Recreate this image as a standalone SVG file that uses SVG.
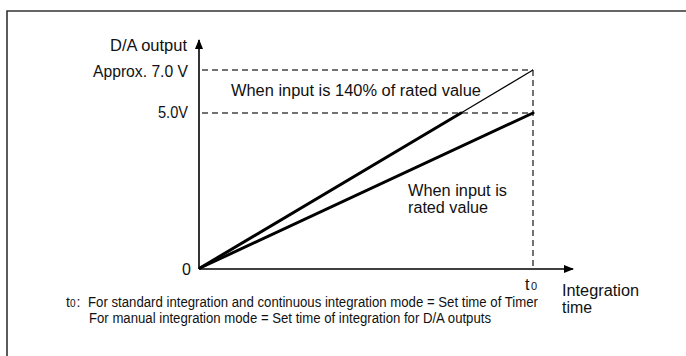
<svg xmlns="http://www.w3.org/2000/svg" width="686" height="356" viewBox="0 0 686 356">
<defs>
<style>
text{font-family:"Liberation Sans",Arial,sans-serif;fill:#111;}
.lbl{font-size:16px;}
.note{font-size:14px;}
.axis{stroke:#000;stroke-width:1.6;fill:none;}
.dash{stroke:#444;stroke-width:1.5;stroke-dasharray:6,4;fill:none;}
.thick{stroke:#000;stroke-width:3;fill:none;stroke-linecap:round;}
.thin{stroke:#000;stroke-width:1.2;fill:none;}
</style>
<marker id="arr" markerWidth="10" markerHeight="8" refX="9" refY="4" orient="auto" markerUnits="userSpaceOnUse">
<path d="M0,0 L10,4 L0,8 Z" fill="#000"/>
</marker>
</defs>
<rect width="686" height="356" fill="#fff"/>
<g id="frame">
<path d="M7,356 V11 H686" fill="none" stroke="#333" stroke-width="1.6"/>
</g>
<g id="connectors">
<line class="axis" x1="199" y1="269" x2="199" y2="40" marker-end="url(#arr)"/>
<line class="axis" x1="199" y1="269" x2="573" y2="269" marker-end="url(#arr)"/>
<line class="dash" x1="202" y1="70" x2="533" y2="70"/>
<line class="dash" x1="202" y1="113" x2="533" y2="113"/>
<line class="dash" x1="533" y1="70" x2="533" y2="268"/>
<line class="thick" x1="200" y1="268" x2="461" y2="113"/>
<line class="thin" x1="461" y1="113" x2="533" y2="70"/>
<line class="thick" x1="200" y1="268" x2="533" y2="113"/>
</g>
<g id="yaxis-label"><text class="lbl" x="110" y="51" textLength="77" lengthAdjust="spacingAndGlyphs">D/A output</text></g>
<g id="tick-7v"><text class="lbl" x="93" y="77" textLength="95" lengthAdjust="spacingAndGlyphs">Approx. 7.0 V</text></g>
<g id="tick-5v"><text class="lbl" x="158" y="118" textLength="30" lengthAdjust="spacingAndGlyphs">5.0V</text></g>
<g id="tick-0"><text class="lbl" x="182" y="275">0</text></g>
<g id="label-140"><text class="lbl" x="231" y="96" textLength="250" lengthAdjust="spacingAndGlyphs">When input is 140% of rated value</text></g>
<g id="label-rated"><text class="lbl" x="408" y="196" textLength="99" lengthAdjust="spacingAndGlyphs">When input is</text><text class="lbl" x="408" y="213" textLength="80" lengthAdjust="spacingAndGlyphs">rated value</text></g>
<g id="tick-t0"><text class="lbl" x="525" y="290">t<tspan font-size="11" dx="1.5">0</tspan></text></g>
<g id="xaxis-label"><text class="lbl" x="562" y="296" textLength="77" lengthAdjust="spacingAndGlyphs">Integration</text><text class="lbl" x="562" y="313" textLength="30" lengthAdjust="spacingAndGlyphs">time</text></g>
<g id="footnote">
<text class="note" x="66" y="307">t<tspan font-size="10">0</tspan><tspan dx="1">:</tspan></text>
<text class="note" x="88" y="307" textLength="450" lengthAdjust="spacingAndGlyphs">For standard integration and continuous integration mode = Set time of Timer</text>
<text class="note" x="89" y="323" textLength="402" lengthAdjust="spacingAndGlyphs">For manual integration mode = Set time of integration for D/A outputs</text>
</g>
</svg>
